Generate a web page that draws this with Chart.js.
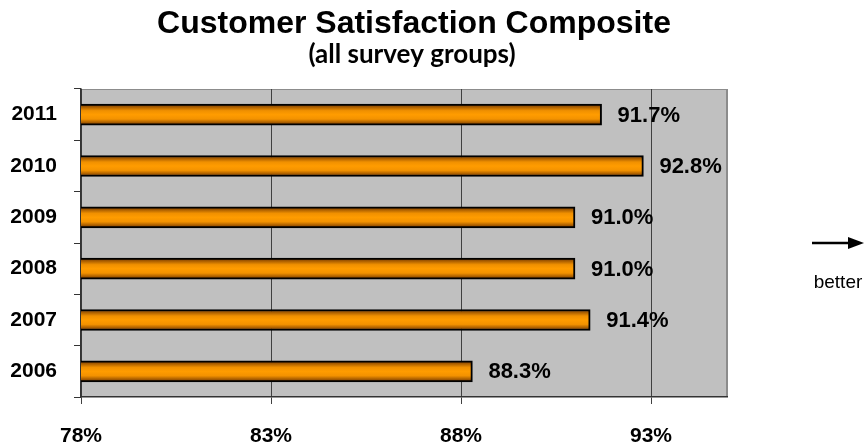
<!DOCTYPE html>
<html>
<head>
<meta charset="utf-8">
<script src="https://cdn.jsdelivr.net/npm/chart.js@4/dist/chart.umd.min.js"></script>
<style>
  html, body { margin: 0; padding: 0; background: #fff; }
  #wrap { width: 868px; height: 445px; position: relative; }
</style>
</head>
<body>
<div id="wrap"><canvas id="chart"></canvas></div>
<script>
const years = ['2011', '2010', '2009', '2008', '2007', '2006'];
const satisfaction = [91.7, 92.8, 91.0, 91.0, 91.4, 88.3];
const tickValues = [78, 83, 88, 93];
const axisMin = 78;
const axisMax = 95;
const titleText = 'Customer Satisfaction Composite';
const subtitleText = '(all survey groups)';
const noteText = 'better';

// gray plot background with thin border, like the old excel look
const plotBackground = {
    id: 'plotBackground',
    beforeDraw(chart) {
        const { ctx, chartArea: a } = chart;
        ctx.save();
        ctx.fillStyle = '#c0c0c0';
        ctx.fillRect(a.left, a.top, a.right - a.left, a.bottom - a.top);
        ctx.strokeStyle = '#8c8c8c';
        ctx.lineWidth = 1;
        ctx.strokeRect(a.left + 0.5, a.top + 0.5, a.right - a.left - 1, a.bottom - a.top - 1);
        ctx.restore();
    }
};

// title, subtitle and the "better" arrow on the right
const headerText = {
    id: 'headerText',
    afterDraw(chart) {
        const ctx = chart.ctx;
        ctx.save();
        ctx.fillStyle = '#000';
        ctx.textAlign = 'center';
        ctx.textBaseline = 'alphabetic';
        ctx.font = 'bold 32px "Liberation Sans", Arial, sans-serif';
        ctx.fillText(titleText, 414, 33);
        ctx.font = 'bold 26px Lato, "Open Sans", sans-serif';
        ctx.fillText(subtitleText, 412, 63);

        // arrow
        ctx.strokeStyle = '#000';
        ctx.lineWidth = 2.5;
        ctx.beginPath();
        ctx.moveTo(812, 243);
        ctx.lineTo(850, 243);
        ctx.stroke();
        ctx.beginPath();
        ctx.moveTo(864, 243);
        ctx.lineTo(848, 237);
        ctx.lineTo(848, 249);
        ctx.closePath();
        ctx.fill();

        ctx.font = '19px "Liberation Sans", Arial, sans-serif';
        ctx.fillText(noteText, 838, 288);
        ctx.restore();
    }
};

// value labels to the right of every bar
const valueLabels = {
    id: 'valueLabels',
    afterDatasetsDraw(chart) {
        const ctx = chart.ctx;
        const meta = chart.getDatasetMeta(0);
        ctx.save();
        ctx.fillStyle = '#000';
        ctx.font = 'bold 22px "Liberation Sans", Arial, sans-serif';
        ctx.textAlign = 'left';
        ctx.textBaseline = 'middle';
        meta.data.forEach((bar, i) => {
            ctx.fillText(satisfaction[i].toFixed(1) + '%', bar.x + 16, bar.y + 1);
        });
        ctx.restore();
    }
};

function barGradient(context) {
    const chart = context.chart;
    if (!chart.chartArea || !chart.scales.y) return '#ff9900';
    const yc = chart.scales.y.getPixelForValue(context.dataIndex);
    const g = chart.ctx.createLinearGradient(0, yc - 10, 0, yc + 10);
    g.addColorStop(0, '#7a3c00');
    g.addColorStop(0.3, '#f09000');
    g.addColorStop(0.5, '#ff9c00');
    g.addColorStop(0.72, '#f39200');
    g.addColorStop(1, '#7a3c00');
    return g;
}

new Chart(document.getElementById('chart'), {
    type: 'bar',
    data: {
        labels: years,
        datasets: [{
            label: 'Customer Satisfaction',
            data: satisfaction,
            backgroundColor: barGradient,
            borderColor: '#000',
            borderWidth: 2,
            borderSkipped: false,
            barThickness: 21
        }]
    },
    options: {
        indexAxis: 'y',
        responsive: true,
        maintainAspectRatio: false,
        animation: false,
        layout: {
            padding: { top: 89, left: 9, right: 141, bottom: 0 }
        },
        plugins: {
            legend: { display: false },
            title: { display: false },
            tooltip: { enabled: false }
        },
        scales: {
            x: {
                min: axisMin,
                max: axisMax,
                afterBuildTicks: (axis) => {
                    axis.ticks = [...tickValues, axisMax].map(v => ({ value: v }));
                },
                afterFit: (axis) => { axis.height = 48; },
                grid: {
                    color: (c) => c.tick && c.tick.value === axisMax ? '#8c8c8c' : '#404040',
                    tickColor: (c) => c.tick && c.tick.value === axisMax ? 'rgba(0,0,0,0)' : '#404040',
                    tickLength: 7,
                    lineWidth: 1
                },
                border: { color: '#333', width: 1.5 },
                ticks: {
                    color: '#000',
                    padding: 22,
                    maxRotation: 0,
                    font: { family: '"Liberation Sans", Arial, sans-serif', size: 21, weight: 'bold', lineHeight: 1 },
                    callback: (value) => tickValues.includes(value) ? value + '%' : ''
                }
            },
            y: {
                afterFit: (axis) => { axis.width = 72; },
                grid: {
                    offset: true,
                    drawOnChartArea: false,
                    tickLength: 7,
                    tickColor: '#333'
                },
                border: { color: '#333', width: 1.5 },
                ticks: {
                    color: '#000',
                    padding: 17,
                    font: { family: '"Liberation Sans", Arial, sans-serif', size: 21, weight: 'bold' }
                }
            }
        }
    },
    plugins: [plotBackground, valueLabels, headerText]
});
</script>
</body>
</html>
